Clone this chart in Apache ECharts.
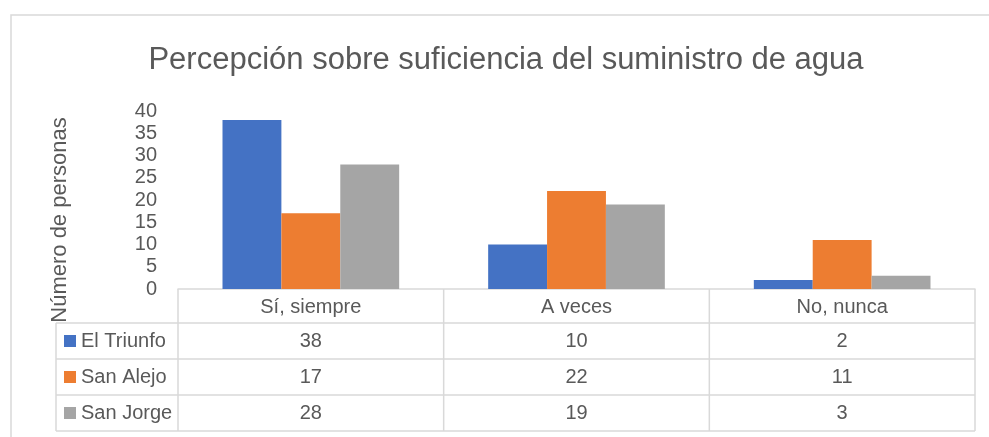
<!DOCTYPE html>
<html>
<head>
<meta charset="utf-8">
<script src="https://cdn.jsdelivr.net/npm/echarts@6/dist/echarts.min.js"></script>
<style>
  html, body { margin: 0; padding: 0; background: #fff; }
  #chart { width: 989px; height: 437px; }
</style>
</head>
<body>
<div id="chart"></div>
<script>
const CATEGORIES = ["Sí, siempre", "A veces", "No, nunca"];
const SERIES_NAMES = ["El Triunfo", "San Alejo", "San Jorge"];
const EL_TRIUNFO = [38, 10, 2];
const SAN_ALEJO = [17, 22, 11];
const SAN_JORGE = [28, 19, 3];
const Y_MIN = 0;
const Y_MAX = 40;
const Y_STEP = 5;
const Y_NAME = "Número de personas";

const SERIES_VALUES = [EL_TRIUNFO, SAN_ALEJO, SAN_JORGE];
const COLORS = ["#4472c4", "#ed7d31", "#a5a5a5"];
const FONT = '"Liberation Sans Narrow", "Arial Narrow", "Liberation Sans", Arial, sans-serif';
const TEXT = "#595959";
const LINE = "#d9d9d9";

const W = 989;
const H = 437;
const GRID = { left: 178, right: 14, top: 111, bottom: 148 };

const chart = echarts.init(document.getElementById("chart"), null, { renderer: "canvas" });

chart.setOption({
  animation: false,
  title: {
    text: "Percepción sobre suficiencia del suministro de agua",
    left: 506,
    top: 60,
    padding: 0,
    textAlign: "center",
    textVerticalAlign: "middle",
    textStyle: { fontFamily: FONT, fontSize: 31, fontWeight: "normal", color: TEXT }
  },
  grid: GRID,
  xAxis: {
    type: "category",
    data: CATEGORIES,
    axisTick: { show: false },
    axisLine: { lineStyle: { color: LINE, width: 1.5 } },
    axisLabel: { color: TEXT, fontFamily: FONT, fontSize: 20, margin: 8 }
  },
  yAxis: {
    type: "value",
    min: Y_MIN,
    max: Y_MAX,
    interval: Y_STEP,
    axisLine: { show: false },
    axisTick: { show: false },
    splitLine: { show: false },
    axisLabel: { color: TEXT, fontFamily: FONT, fontSize: 20, margin: 21 }
  },
  series: SERIES_NAMES.map((name, i) => ({
    name,
    type: "bar",
    data: SERIES_VALUES[i],
    barGap: "0%",
    barCategoryGap: "33.5%",
    itemStyle: { color: COLORS[i] }
  }))
});

drawTable();

function drawTable() {
  const x0 = GRID.left;
  const x1 = W - GRID.right;
  const yHead = H - GRID.bottom;
  const headH = 34;
  const rowH = 36;
  const legendLeft = 56;
  const colW = (x1 - x0) / CATEGORIES.length;
  const rowsTop = yHead + headH;
  const bottom = rowsTop + SERIES_NAMES.length * rowH;
  const els = [];

  const line = (xa, ya, xb, yb) => ({
    type: "line",
    silent: true,
    shape: { x1: xa, y1: ya, x2: xb, y2: yb },
    style: { stroke: LINE, lineWidth: 1.5 }
  });

  // outer chart frame
  els.push({
    type: "rect",
    silent: true,
    shape: { x: 11, y: 15, width: W, height: H },
    style: { fill: "none", stroke: LINE, lineWidth: 1.5 }
  });

  // y axis title, centred on plot + table like Excel does
  els.push({
    type: "text",
    silent: true,
    x: 60,
    y: 220,
    rotation: Math.PI / 2,
    style: { text: Y_NAME, fontFamily: FONT, fontSize: 22, fill: TEXT, align: "center", verticalAlign: "middle" }
  });

  for (let r = 0; r <= SERIES_NAMES.length; r++) {
    els.push(line(legendLeft, rowsTop + r * rowH, x1, rowsTop + r * rowH));
  }
  els.push(line(legendLeft, rowsTop, legendLeft, bottom));
  for (let c = 0; c <= CATEGORIES.length; c++) {
    els.push(line(x0 + c * colW, yHead, x0 + c * colW, bottom));
  }

  SERIES_NAMES.forEach((name, r) => {
    const cy = rowsTop + r * rowH + rowH / 2;
    els.push({
      type: "rect",
      silent: true,
      shape: { x: 64, y: cy - 6, width: 12, height: 12 },
      style: { fill: COLORS[r] }
    });
    els.push({
      type: "text",
      silent: true,
      x: 81,
      y: cy,
      style: { text: name, fontFamily: FONT, fontSize: 20, fill: TEXT, verticalAlign: "middle" }
    });
    SERIES_VALUES[r].forEach((v, c) => {
      const cx = chart.convertToPixel({ xAxisIndex: 0 }, CATEGORIES[c]);
      els.push({
        type: "text",
        silent: true,
        x: cx,
        y: cy,
        style: { text: String(v), fontFamily: FONT, fontSize: 20, fill: TEXT, align: "center", verticalAlign: "middle" }
      });
    });
  });

  chart.setOption({ graphic: els });
}
</script>
</body>
</html>
